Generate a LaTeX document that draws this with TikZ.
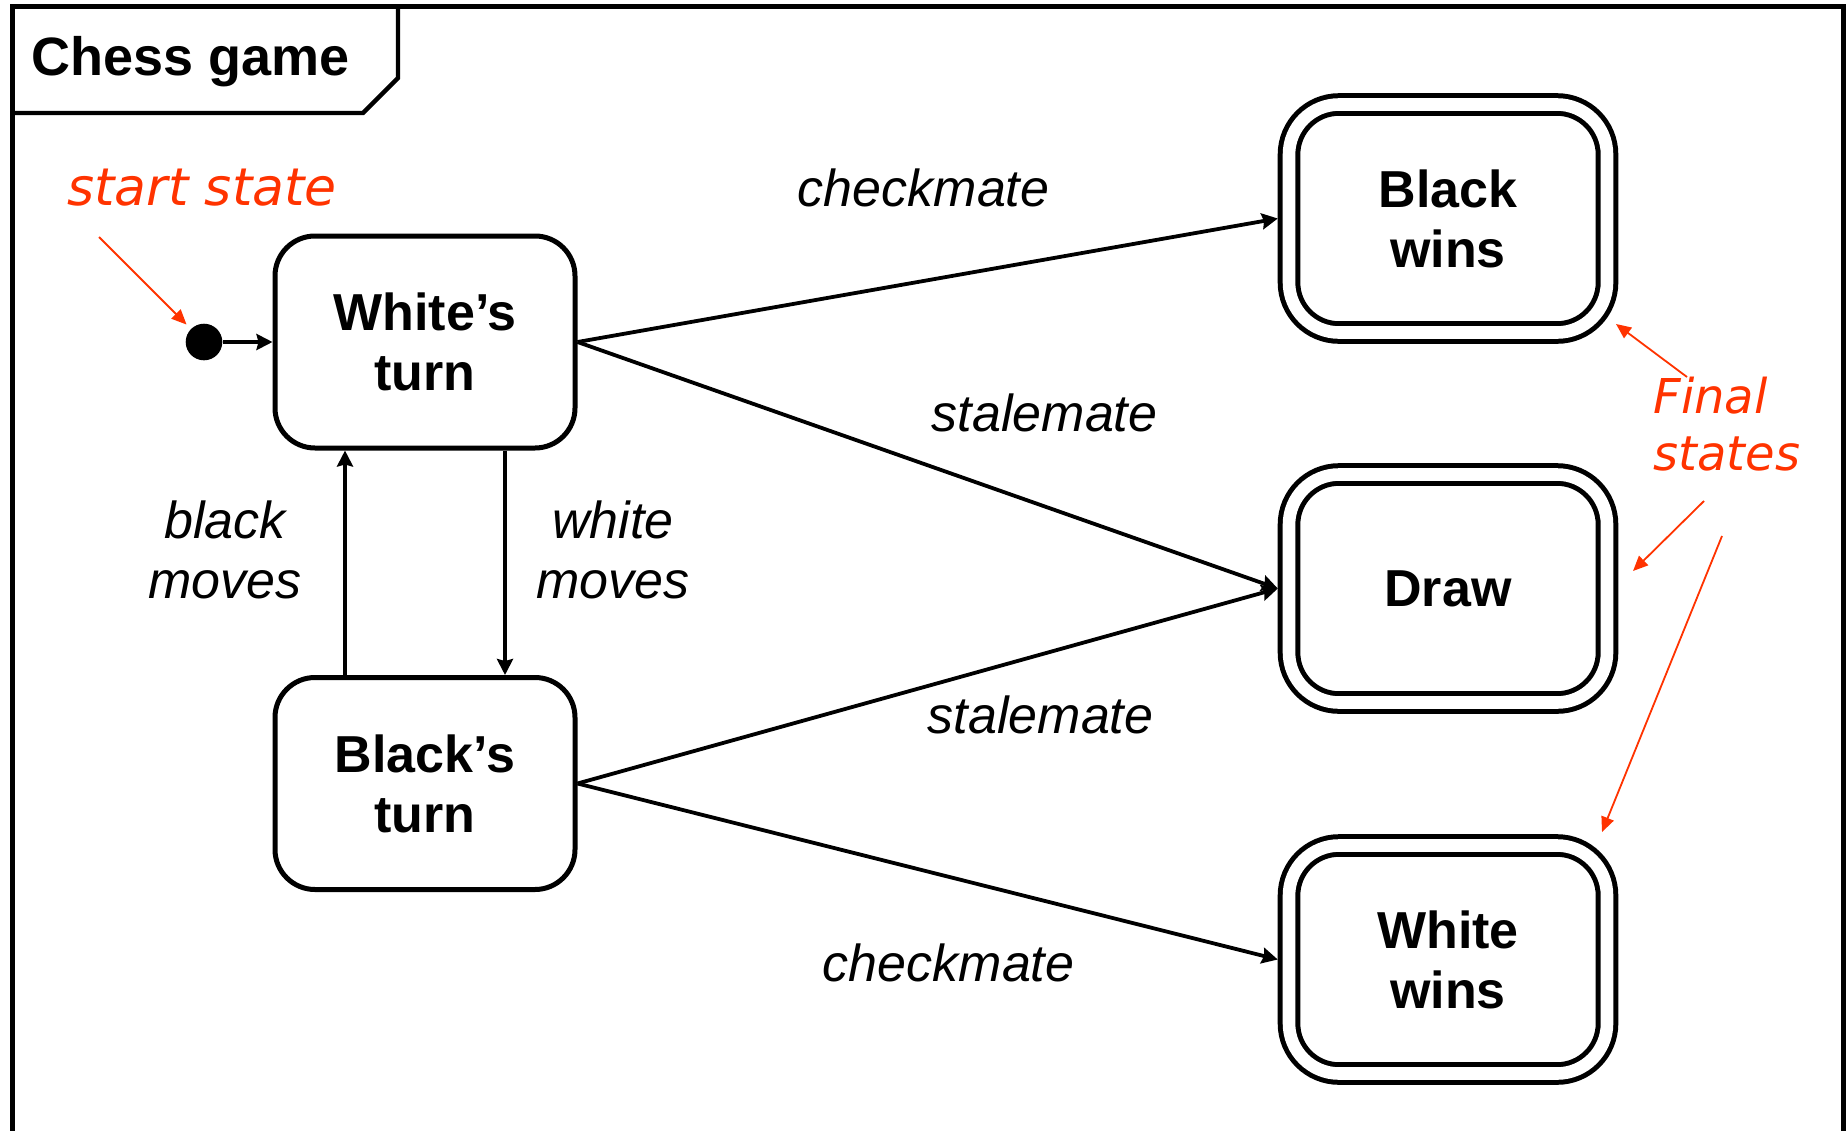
\documentclass[tikz,border=0pt]{standalone}
\usepackage{fontspec}
\setmainfont{Liberation Sans}
\newfontfamily\notefont{DejaVu Sans}
\usetikzlibrary{arrows.meta,calc}
\definecolor{notered}{RGB}{255,51,0}

\begin{document}
\begin{tikzpicture}[x=0.5pt,y=-0.5pt,
    state/.style={draw,line width=2.5pt,rounded corners=20pt,minimum width=150pt,minimum height=106pt,align=center,font=\fontsize{26}{30}\selectfont\bfseries},
    final/.style={state,double,double distance=6.3pt,outer sep=5.6pt,rounded corners=25pt,minimum width=159pt,minimum height=114pt},
    trans/.style={line width=1.9pt,-{Stealth[length=8pt,width=8pt,inset=1pt]}},
    lbl/.style={align=center,font=\fontsize{26}{30}\selectfont\itshape},
    note/.style={text=notered,inner sep=0pt,align=left},
    notearrow/.style={draw=notered,line width=0.9pt,-{Triangle[length=7.5pt,width=6.5pt]}}]
        \useasboundingbox (0,0) rectangle (1846,1130);
        % draw frame
        \draw[line width=2.5pt] (12,1140) -- (12,6) -- (1843,6) -- (1843,1140);
        \draw[line width=2.2pt] (12,113) -- (363,113) -- (398,78) -- (398,6);
        \node[anchor=base west,inner sep=0pt,font=\fontsize{27}{30}\selectfont\bfseries] (title) at (31,75) {Chess game};
        % draw states
        \node[circle,fill,inner sep=0pt,minimum size=18.3pt] (init) at (204,342) {};
        \node[state] (wt) at (425,342) {White’s\\turn};
        \node[state] (bt) at (425,783.5) {Black’s\\turn};
        \node[final] (bw) at (1448,218.5) {Black\\wins};
        \node[final] (dr) at (1448,588.5) {Draw};
        \node[final] (ww) at (1448,959.5) {White\\wins};
        % draw transitions
        \draw[trans] (init) -- (init -| wt.west);
        \draw[trans] ([xshift=-40pt]bt.north) -- ([xshift=-40pt]wt.south) node[midway,lbl,xshift=-60pt,yshift=6.5pt] {black\\moves};
        \draw[trans] ([xshift=40pt]wt.south) -- ([xshift=40pt]bt.north) node[midway,lbl,xshift=54pt,yshift=6.5pt] {white\\moves};
        \draw[trans] (wt.east) -- (bw.west) node[midway,lbl,xshift=-2pt,yshift=46pt] {checkmate};
        \draw[trans] (wt.east) -- (dr.west) node[midway,lbl,xshift=58.5pt,yshift=26pt] {stalemate};
        \draw[trans] (bt.east) -- (dr.west) node[midway,lbl,xshift=56.5pt,yshift=-14.5pt] {stalemate};
        \draw[trans] (bt.east) -- (ww.west) node[midway,lbl,xshift=10.5pt,yshift=-45.75pt] {checkmate};
        % draw notes
        \node[note,font=\notefont\itshape\fontsize{26}{30}\selectfont] (startnote) at (202,188) {start state};
        \node[note,anchor=north west,font=\notefont\itshape\fontsize{24}{28.5}\selectfont] (finalnote) at (1653,377) {Final\\states};
        \coordinate (s0) at (99,237);
        \draw[notearrow,shorten >=3pt] (s0) -- (init);
        \coordinate (f1) at (1687,377);
        \coordinate (t1) at (1616,324);
        \coordinate (f2) at (1704,501);
        \coordinate (t2) at (1633,571);
        \coordinate (f3) at (1722,536);
        \coordinate (t3) at (1602,832);
        \foreach \a/\b in {f1/t1,f2/t2,f3/t3}
        \draw[notearrow] (\a) -- (\b);
\end{tikzpicture}
\end{document}
